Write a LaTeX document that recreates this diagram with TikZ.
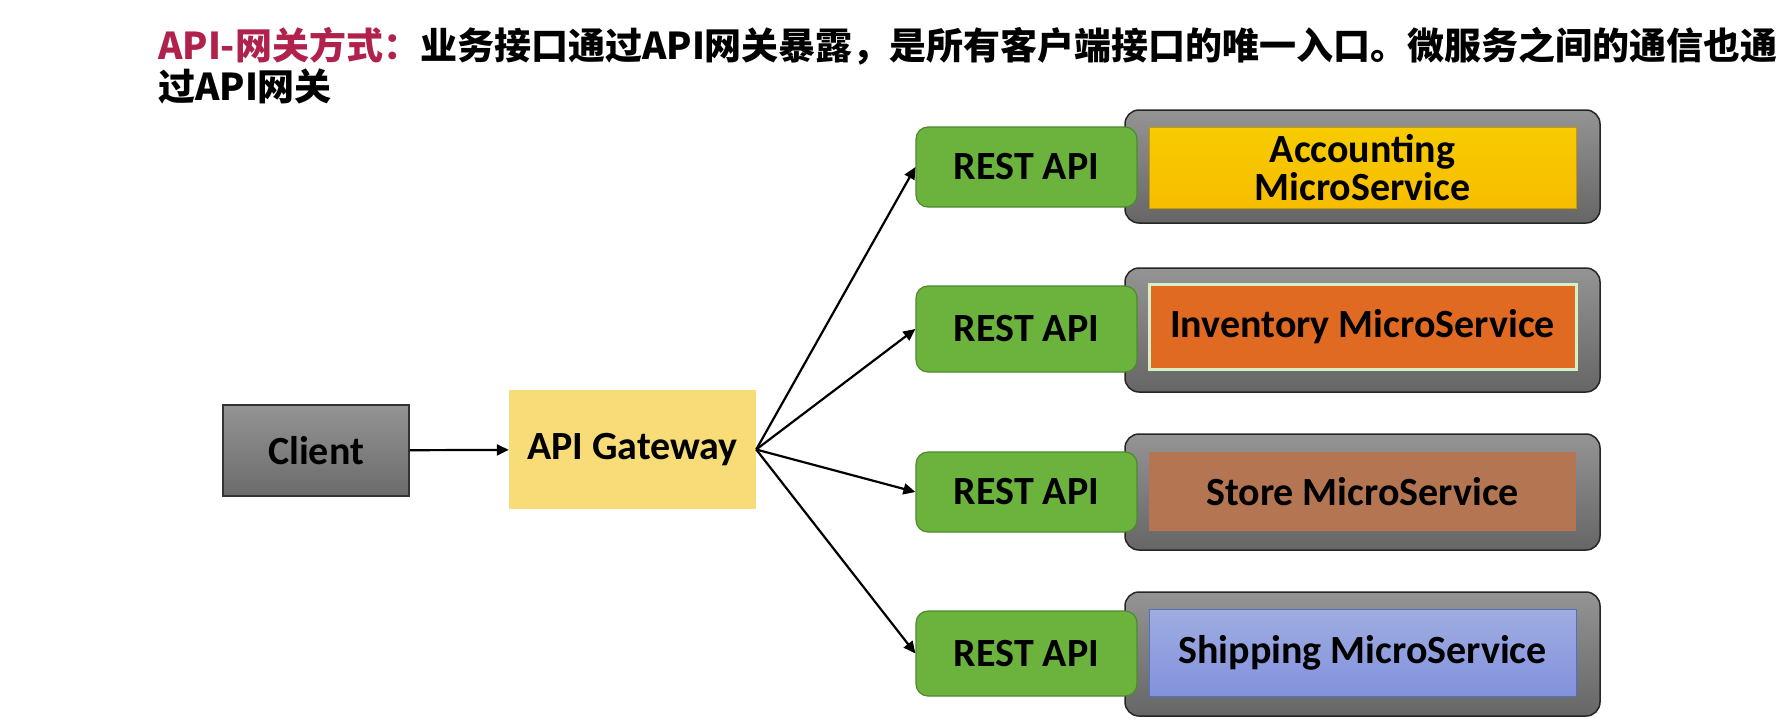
\documentclass[tikz,border=0pt]{standalone}
\usepackage{fontspec}
\setmainfont{Carlito}
\newfontfamily\cjk{Noto Sans CJK SC}
\usetikzlibrary{arrows.meta}
\definecolor{titlered}{HTML}{B0224C}
\definecolor{gwfill}{HTML}{F8DC78}
\definecolor{greenfill}{HTML}{6CB33E}
\definecolor{greenline}{HTML}{4E8A2C}
\definecolor{accfill}{HTML}{F6C200}
\definecolor{accline}{HTML}{C89800}
\definecolor{invfill}{HTML}{E06A22}
\definecolor{invline}{HTML}{D6F0C6}
\definecolor{stofill}{HTML}{B47552}
\definecolor{shipfill}{HTML}{8E9EDB}
\definecolor{shipline}{HTML}{5070C0}
\tikzset{
  lbl/.style={font=\bfseries\fontsize{40}{38}\selectfont, align=center, text=black},
  clientbox/.style={lbl, draw=black!80, line width=1.2pt, top color=black!42, bottom color=black!58, minimum width=186pt, minimum height=91pt},
  gwbox/.style={lbl, fill=gwfill, minimum width=247pt, minimum height=119pt},
  shell/.style={draw=black!85, line width=1.5pt, rounded corners=14pt, top color=black!42, bottom color=black!60, minimum width=475pt},
  restbox/.style={lbl, draw=greenline, line width=1.2pt, fill=greenfill, rounded corners=12pt, minimum width=221pt},
  svc/.style={lbl, minimum width=427pt},
  conn/.style={-{Triangle[length=12pt,width=11pt]}, line width=2.2pt, black}
}
\begin{document}
\begin{tikzpicture}[x=1pt,y=-1pt]
\useasboundingbox[fill=white] (0,0) rectangle (1782,726);
% title
\node[anchor=base west, inner sep=0pt, font=\cjk\bfseries\fontsize{37}{40}\selectfont] (t1) at (158,59)
  {\textcolor{titlered}{API-网关方式：}业务接口通过API网关暴露，是所有客户端接口的唯一入口。微服务之间的通信也通};
\node[anchor=base west, inner sep=0pt, font=\cjk\bfseries\fontsize{37}{40}\selectfont] (t2) at (158,100)
  {过API网关};
% left
\node[clientbox] (client) at (316,450.5) {Client};
\node[gwbox] (gw) at (632.5,449.5) {API Gateway};
% shells
\node[shell, minimum height=113pt] (s1) at (1362.5,166.5) {};
\node[shell, minimum height=124pt] (s2) at (1362.5,330) {};
\node[shell, minimum height=116pt] (s3) at (1362.5,492) {};
\node[shell, minimum height=124pt] (s4) at (1362.5,654) {};
% rest
\node[restbox, minimum height=80pt] (r1) at (1026.5,167) {REST API};
\node[restbox, minimum height=86pt] (r2) at (1026.5,329) {REST API};
\node[restbox, minimum height=80pt] (r3) at (1026.5,492) {REST API};
\node[restbox, minimum height=85pt] (r4) at (1026.5,653.5) {REST API};
% services
\node[svc, minimum height=81pt, draw=accline, line width=1pt, top color=accfill!85!yellow, bottom color=accfill!92!orange] (m1) at (1362.5,167.5) {Accounting\\MicroService};
\node[svc, minimum height=85pt, draw=invline, line width=3pt, fill=invfill] (m2) at (1362.5,326.5) {Inventory MicroService};
\node[svc, minimum height=79pt, fill=stofill] (m3) at (1362.5,491.5) {Store MicroService};
\node[svc, minimum height=87pt, draw=shipline, line width=1pt, top color=shipfill!85!white, bottom color=shipfill!92!blue] (m4) at (1362.5,652.5) {Shipping MicroService};
% connectors
\draw[conn] (client) -- (gw);
\draw[conn] (gw.east) -- (r1.west);
\draw[conn] (gw.east) -- (r2.west);
\draw[conn] (gw.east) -- (r3.west);
\draw[conn] (gw.east) -- (r4.west);
\end{tikzpicture}
\end{document}
